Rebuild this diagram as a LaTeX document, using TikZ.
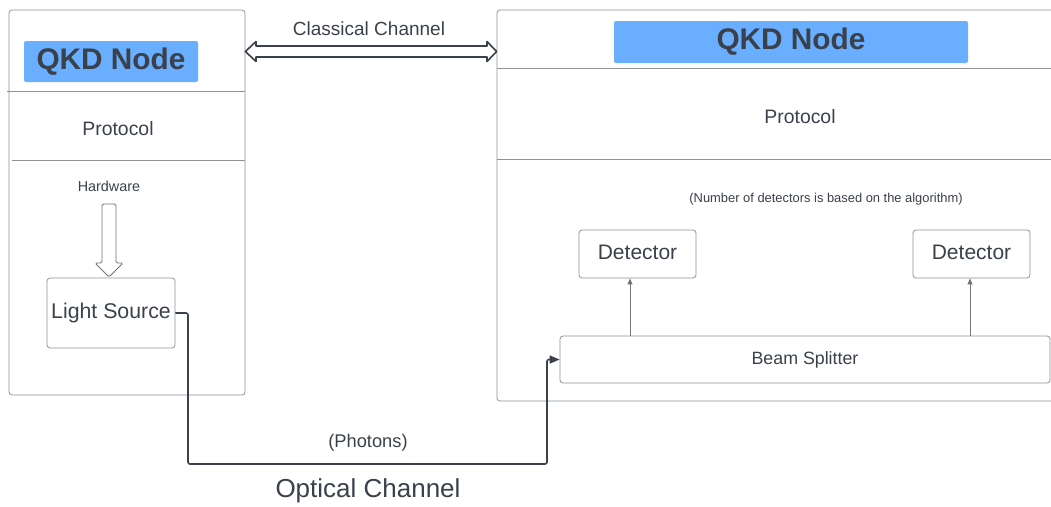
\documentclass[tikz,border=0pt]{standalone}
\usepackage{fontspec}
\setmainfont{Liberation Sans}
\usetikzlibrary{arrows.meta,calc}
\definecolor{ink}{HTML}{3A414A}
\definecolor{frame}{HTML}{8F9399}
\definecolor{titleblue}{HTML}{6AAFFF}
\newcommand{\fs}[1]{\fontsize{#1}{#1}\selectfont}
\tikzset{
  panel/.style={draw=frame, line width=0.8pt, rounded corners=3pt, inner sep=0pt},
  divider/.style={draw=frame, line width=0.8pt},
  box/.style={draw=frame, line width=0.8pt, rounded corners=3pt, text=ink, inner sep=0pt},
  titlebox/.style={fill=titleblue, rounded corners=2pt, text=ink, inner sep=0pt, font=\fs{29.8}\bfseries},
  lbl/.style={text=ink, inner sep=0pt},
  hollow/.style={draw=ink, line width=1.6pt, line join=round, fill=white},
  hollowgrey/.style={draw=frame!80!black, line width=0.9pt, line join=round, fill=white},
  feed/.style={draw=frame!80!black, line width=0.8pt, -{Triangle[length=6pt,width=5pt]}},
  optical/.style={draw=ink, line width=1.6pt, rounded corners=2pt, -{Triangle[length=10pt,width=8pt]}}
}
\begin{document}
\begin{tikzpicture}[x=1pt,y=-1pt]
\useasboundingbox (0,0) rectangle (1051,506);
\fill[white] (0,0) rectangle (1051,506);
\clip (0,0) rectangle (1051,506);

% ---- left QKD node ----
\node[panel, minimum width=236pt, minimum height=385pt] (lp) at (127,202.5) {};
\draw[divider] (7,91) -- (245,91);
\draw[divider] (12,160) -- (245,160);
\node[titlebox, minimum width=174pt, minimum height=41pt] (lt) at (111,61.5) {QKD Node};
\node[lbl, font=\fs{19.4}] (lproto) at (118,129) {Protocol};
\node[lbl, font=\fs{14.4}] (hw) at (109,186) {Hardware};
\node[box, minimum width=128pt, minimum height=70pt, font=\fs{21.3}] (ls) at (111,313) {\raisebox{1.5pt}{Light Source}};

% hollow arrow from Hardware into the light source
\path[hollowgrey, rounded corners=1.5pt]
  (102,204) -- (116,204) -- (116,263) -- (123,263) -- (109,277) -- (95,263) -- (102,263) -- cycle;

% ---- right QKD node ----
\node[panel, minimum width=563pt, minimum height=391pt] (rp) at (778.5,205.5) {};
\draw[divider] (497,68) -- (1060,68);
\draw[divider] (497,159) -- (1060,159);
\node[titlebox, minimum width=354pt, minimum height=42pt] (rt) at (791,42) {QKD Node};
\node[lbl, font=\fs{19.4}] (rproto) at (800,117) {Protocol};
\node[lbl, font=\fs{12.9}] (note) at (826,199) {(Number of detectors is based on the algorithm)};
\node[box, minimum width=117pt, minimum height=48pt, font=\fs{21}] (d1) at (637.5,254) {\raisebox{3pt}{Detector}};
\node[box, minimum width=117pt, minimum height=48pt, font=\fs{21}] (d2) at (971.5,254) {\raisebox{3pt}{Detector}};
\node[box, minimum width=490pt, minimum height=47pt, font=\fs{17.8}] (bs) at (805,359.5) {Beam Splitter};
\draw[feed] (bs.north -| 630,0) -- (d1.south -| 630,0);
\draw[feed] (bs.north -| 970,0) -- (d2.south -| 970,0);

% ---- classical channel (hollow double arrow) ----
\path[hollow]
  (lp.east |- 0,51.5) -- (256,41.5) -- (256,46) -- (487,46) -- (487,41.5)
  -- (rp.west |- 0,51.5) -- (487,61.5) -- (487,57) -- (256,57) -- (256,61.5) -- cycle;
\node[lbl, font=\fs{19}] (cc) at (369,29) {Classical Channel};

% ---- optical channel ----
\coordinate (o1) at (188,464);
\coordinate (o2) at (547,464);
\draw[optical] (ls.east) -| (o1) -- (o2) |- (bs.west);
\node[lbl, font=\fs{18.3}] (ph) at (368,443) {(Photons)};
\node[lbl, font=\fs{26}] (oc) at (368,491) {Optical Channel};
\end{tikzpicture}
\end{document}
